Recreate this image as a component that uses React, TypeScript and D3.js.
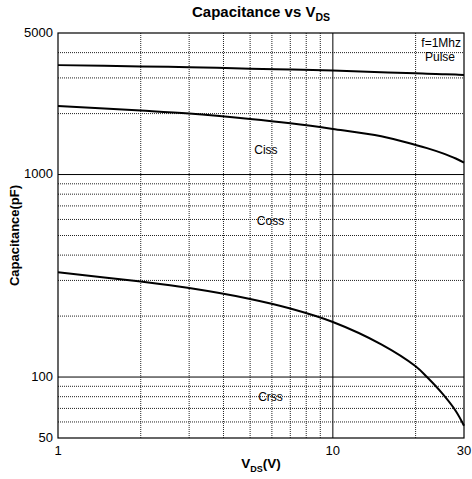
import React from "react";
import * as d3 from "d3";

// V_DS sample points (V)
const vds = [1, 2, 3, 5, 7, 10, 15, 20, 22, 25, 28, 30];
// capacitance curves (pF)
const ciss = [3470, 3420, 3390, 3330, 3300, 3260, 3200, 3160, 3145, 3130, 3115, 3105];
const coss = [2180, 2070, 2000, 1880, 1790, 1680, 1546, 1400, 1350, 1275, 1200, 1144];
const crss = [329, 296, 275, 243, 218, 187, 145, 113, 100, 83, 68, 57.5];

const xMinorGrid = [2, 3, 4, 5, 6, 7, 8, 9, 20];
const xMajorGrid = [10];
const yMinorGrid = [60, 70, 80, 90, 200, 300, 400, 500, 600, 700, 800, 900, 2000, 3000, 4000];
const yMajorGrid = [100, 1000];
const xTicks = [1, 10, 30];
const yTicks = [50, 100, 1000, 5000];

const curveLabels = [
  { text: "Ciss", v: 5.71, c: 1264 },
  { text: "Coss", v: 5.93, c: 564 },
  { text: "Crss", v: 5.93, c: 76.5 },
];

const W = 472;
const H = 479;
const left = 58;
const right = 464;
const top = 33;
const bottom = 438;
const font = "Liberation Sans, Arial, sans-serif";

const App: React.FC = () => {
  const x = d3.scaleLog().domain([1, 30]).range([left, right]);
  const y = d3.scaleLog().domain([50, 5000]).range([bottom, top]);

  const line = d3
    .line<number>()
    .x((_, i) => x(vds[i]))
    .y((d) => y(d))
    .curve(d3.curveCatmullRom.alpha(0.5));

  return (
    <svg
      width={W}
      height={H}
      style={{ position: "absolute", left: 0, top: 0, background: "#fff" }}
      fontFamily={font}
    >
      {/* minor grid */}
      {xMinorGrid.map((v) => (
        <line
          key={"xv" + v}
          x1={x(v)}
          x2={x(v)}
          y1={top}
          y2={bottom}
          stroke="#222"
          strokeWidth={1}
          strokeDasharray="1,1"
        />
      ))}
      {yMinorGrid.map((v) => (
        <line
          key={"yv" + v}
          x1={left}
          x2={right}
          y1={y(v)}
          y2={y(v)}
          stroke="#222"
          strokeWidth={1}
          strokeDasharray="1,1"
        />
      ))}
      {/* major grid */}
      {xMajorGrid.map((v) => (
        <line key={"xm" + v} x1={x(v)} x2={x(v)} y1={top} y2={bottom} stroke="#000" strokeWidth={1} />
      ))}
      {yMajorGrid.map((v) => (
        <line key={"ym" + v} x1={left} x2={right} y1={y(v)} y2={y(v)} stroke="#000" strokeWidth={1} />
      ))}
      <rect x={left} y={top} width={right - left} height={bottom - top} fill="none" stroke="#000" strokeWidth={1.2} />

      {/* curves */}
      {[ciss, coss, crss].map((s, i) => (
        <path key={i} d={line(s) || ""} fill="none" stroke="#000" strokeWidth={2} />
      ))}

      {curveLabels.map((l) => (
        <text key={l.text} x={x(l.v)} y={y(l.c)} fontSize={12} textAnchor="middle" fill="#000">
          {l.text}
        </text>
      ))}

      <text x={461} y={47} fontSize={12} textAnchor="end">f=1Mhz</text>
      <text x={455} y={61} fontSize={12} textAnchor="end">Pulse</text>

      {/* ticks */}
      {yTicks.map((v) => (
        <text key={"yt" + v} x={left - 5} y={y(v)} dy="0.3em" fontSize={13} textAnchor="end">
          {v}
        </text>
      ))}
      {xTicks.map((v) => (
        <text key={"xt" + v} x={x(v)} y={455} fontSize={13} textAnchor="middle">
          {v}
        </text>
      ))}

      {/* titles */}
      <text x={(left + right) / 2} y={17} fontSize={15} fontWeight="bold" textAnchor="middle">
        Capacitance vs V
        <tspan fontSize={10.5} dy={4}>DS</tspan>
      </text>
      <text x={(left + right) / 2} y={468} fontSize={13.5} fontWeight="bold" textAnchor="middle">
        V<tspan fontSize={9} dy={4}>DS</tspan>
        <tspan dy={-4}>(V)</tspan>
      </text>
      <text
        transform={`translate(19,${(top + bottom) / 2}) rotate(-90)`}
        fontSize={13}
        fontWeight="bold"
        textAnchor="middle"
      >
        Capacitance(pF)
      </text>
    </svg>
  );
};

export default App;
